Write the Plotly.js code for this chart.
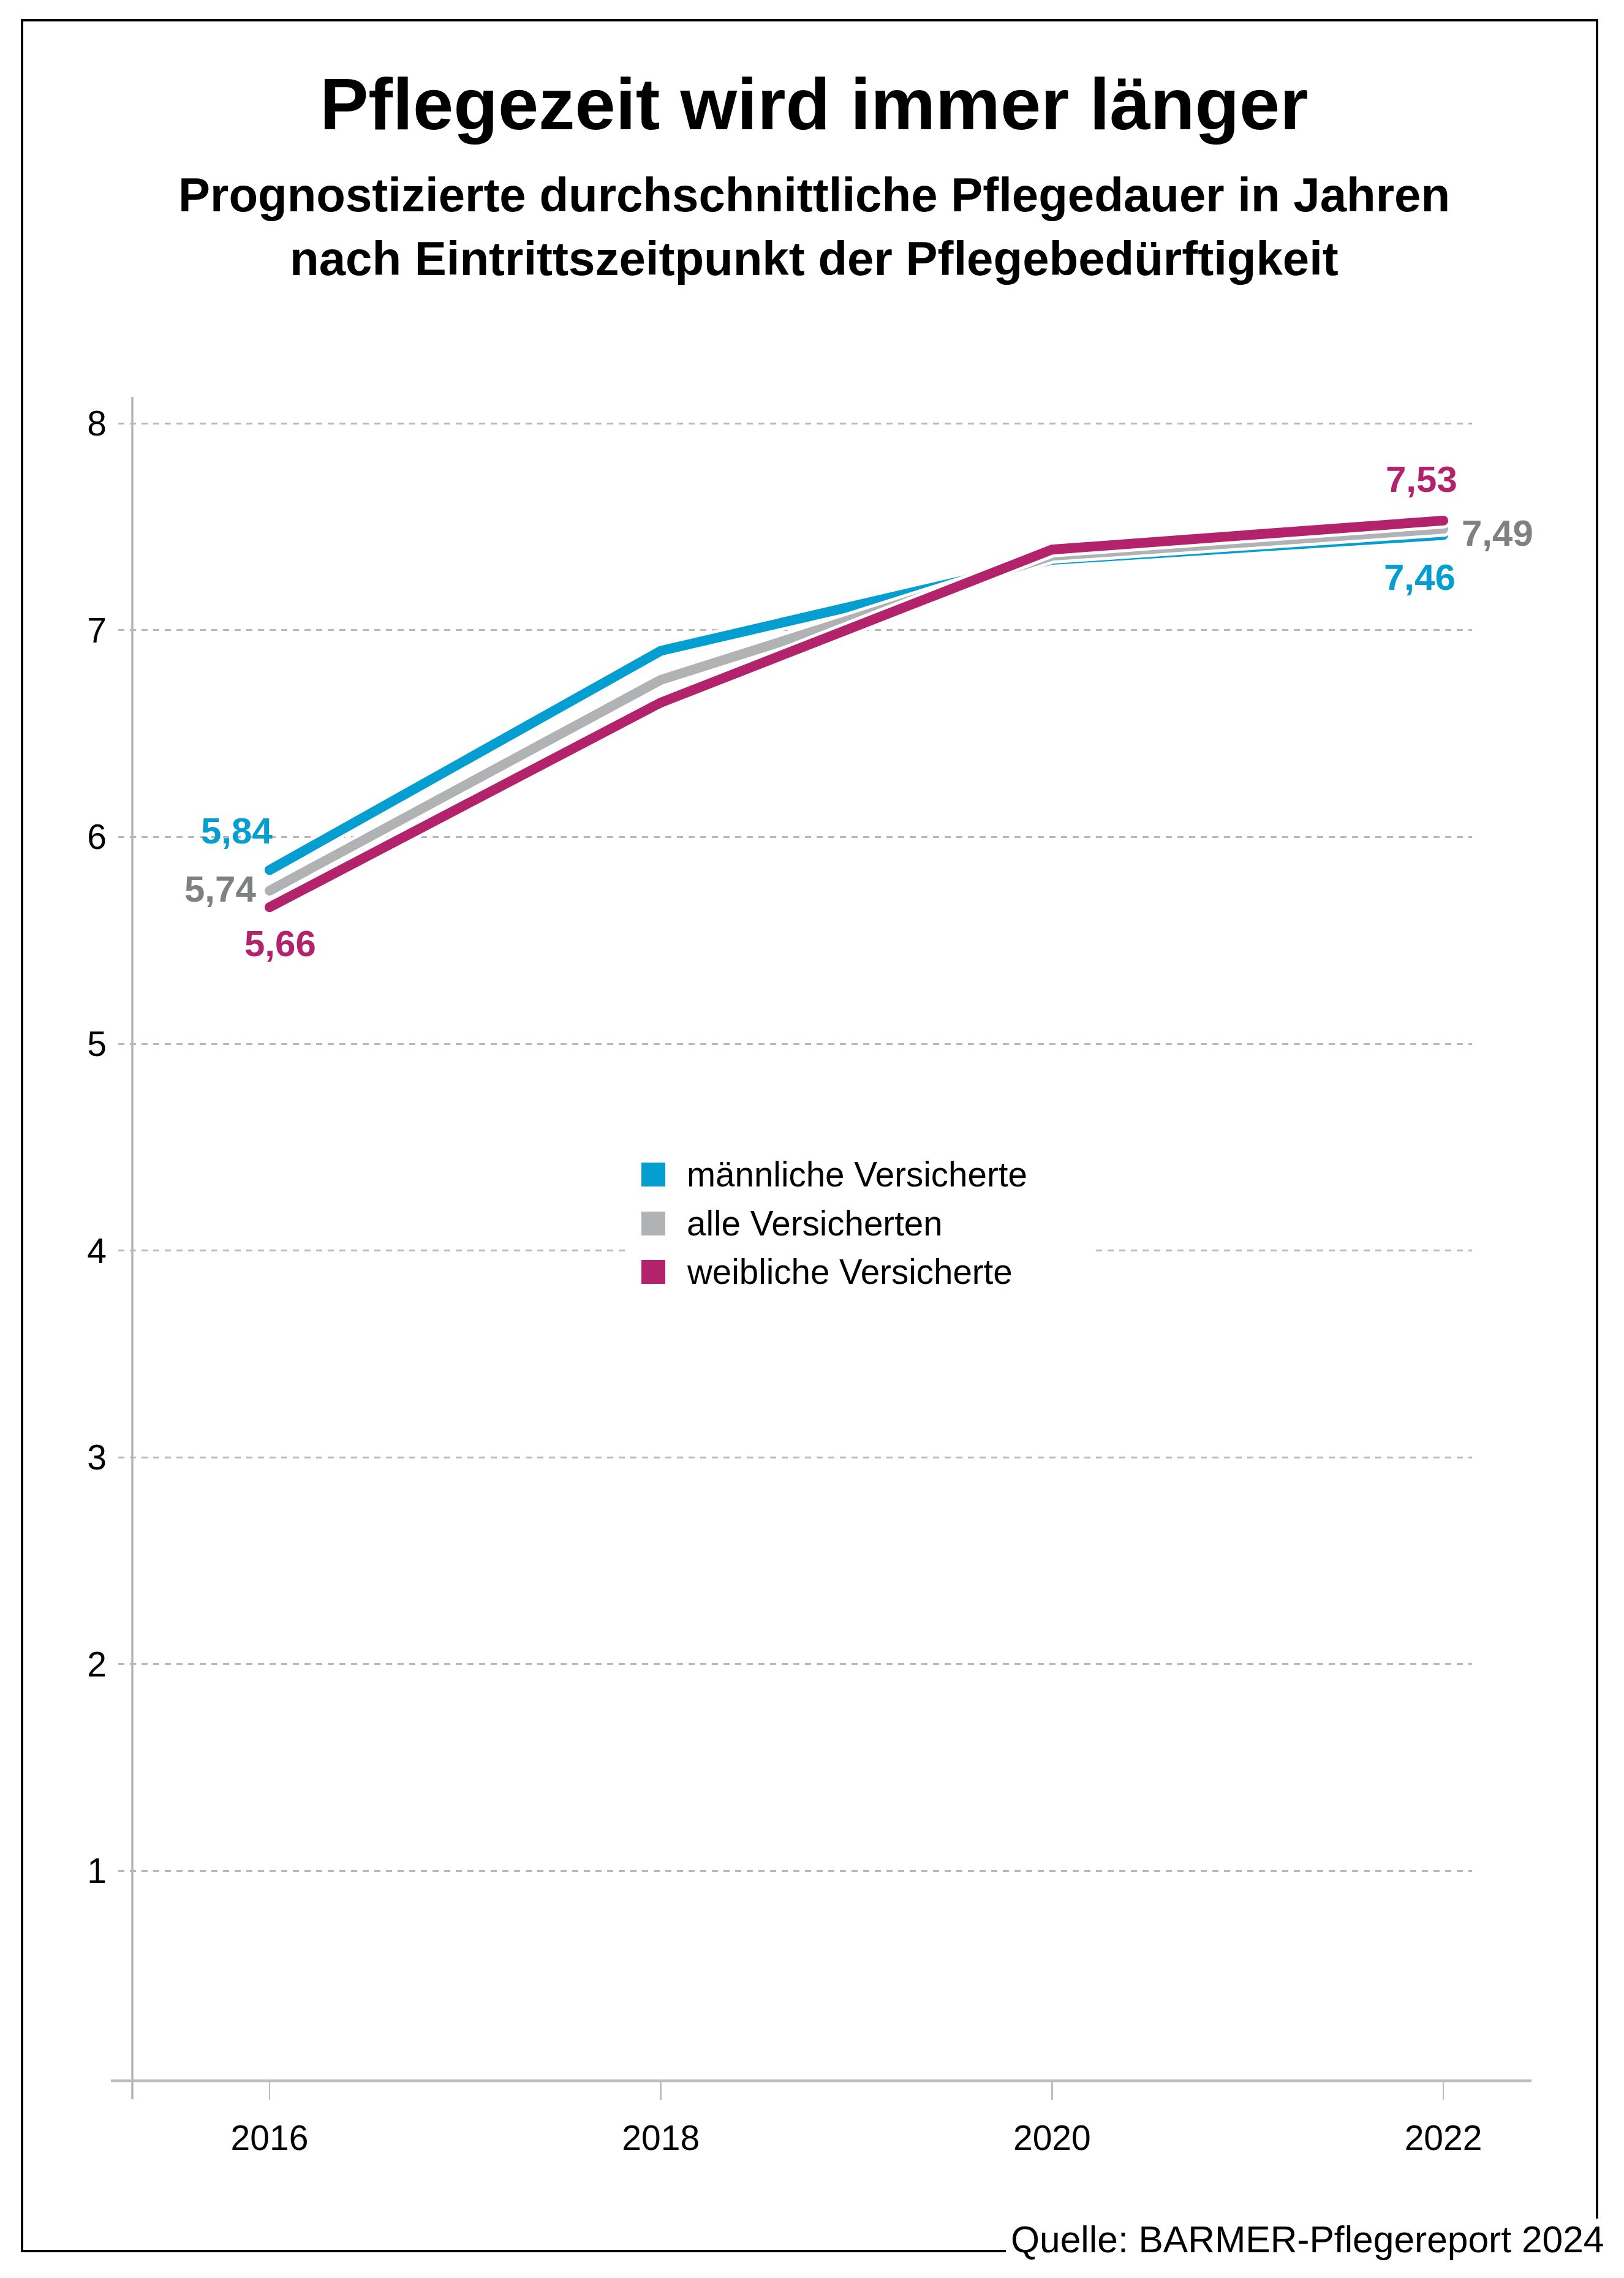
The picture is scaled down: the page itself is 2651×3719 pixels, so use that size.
<!DOCTYPE html>
<html>
<head>
<meta charset="utf-8">
<script src="https://cdn.plot.ly/plotly-3.0.1.min.js"></script>
<style>
  html, body { margin: 0; padding: 0; background: #ffffff; }
  #chart { width: 2651px; height: 3719px; }
  .scatterlayer path.js-line { stroke-linecap: round; stroke-linejoin: miter; }
</style>
</head>
<body>
<div id="chart"></div>
<script>
// ---------- data ----------
const years = [2016, 2018, 2020, 2022];
const maennlich = [5.84, 6.90, 7.34, 7.46];
const alle = [5.74, 6.76, 7.36, 7.49];
const weiblich = [5.66, 6.65, 7.39, 7.53];
const seriesNames = ['männliche Versicherte', 'alle Versicherten', 'weibliche Versicherte'];
const yTickVals = [1, 2, 3, 4, 5, 6, 7, 8];
const xTickVals = [2016, 2018, 2020, 2022];
const titleText = 'Pflegezeit wird immer länger';
const subtitleLines = ['Prognostizierte durchschnittliche Pflegedauer in Jahren',
                       'nach Eintrittszeitpunkt der Pflegebedürftigkeit'];
const sourceText = 'Quelle: BARMER-Pflegereport 2024';

// ---------- styling ----------
const W = 2651, H = 3719;
const FONT = 'Liberation Sans, Arial, Helvetica, sans-serif';
const colBlue = '#049fd0', colGray = '#b1b2b4', colMag = '#b3236b';
const colGrayLabel = '#7f8082';
const X = px => px / W;
const Y = py => 1 - py / H;

const series = [
  {name: seriesNames[0], values: maennlich, color: colBlue, label: colBlue,
   shiftStart: [-54, 64], shiftEnd: [-39, -69]},
  {name: seriesNames[1], values: alle, color: colGray, label: colGrayLabel,
   shiftStart: [-81, 3], shiftEnd: [88, -7]},
  {name: seriesNames[2], values: weiblich, color: colMag, label: colMag,
   shiftStart: [17, -59], shiftEnd: [-36, 67]}
];

const fmt = v => v.toFixed(2).replace('.', ',');

const traces = [];
series.forEach(s => {
  traces.push({x: years, y: s.values, type: 'scatter', mode: 'lines',
    line: {color: '#ffffff', width: 26}, hoverinfo: 'skip', showlegend: false});
  traces.push({x: years, y: s.values, type: 'scatter', mode: 'lines', name: s.name,
    line: {color: s.color, width: 16}, showlegend: false});
});

const annotations = [];
// title lines
annotations.push({xref: 'paper', yref: 'paper', x: X(1329), y: Y(170), xanchor: 'center', yanchor: 'middle',
  text: '<b>' + titleText + '</b>', showarrow: false, font: {family: FONT, size: 119, color: '#000'}});
const subY = [318, 421.5];
subtitleLines.forEach((t, i) => annotations.push({xref: 'paper', yref: 'paper', x: X(1329), y: Y(subY[i]),
  xanchor: 'center', yanchor: 'middle', text: '<b>' + t + '</b>', showarrow: false,
  font: {family: FONT, size: 78, color: '#000'}}));
// source
annotations.push({xref: 'paper', yref: 'paper', x: X(1648), y: Y(3656), xanchor: 'left', yanchor: 'middle',
  text: sourceText, showarrow: false, font: {family: FONT, size: 60.5, color: '#000'}});

// value labels at first / last point
series.forEach(s => {
  const n = s.values.length - 1;
  annotations.push({x: years[0], y: s.values[0], xref: 'x', yref: 'y', text: '<b>' + fmt(s.values[0]) + '</b>',
    showarrow: false, xshift: s.shiftStart[0], yshift: s.shiftStart[1], xanchor: 'center', yanchor: 'middle',
    font: {family: FONT, size: 60, color: s.label}});
  annotations.push({x: years[n], y: s.values[n], xref: 'x', yref: 'y', text: '<b>' + fmt(s.values[n]) + '</b>',
    showarrow: false, xshift: s.shiftEnd[0], yshift: s.shiftEnd[1], xanchor: 'center', yanchor: 'middle',
    font: {family: FONT, size: 60, color: s.label}});
});

// legend (manual, square swatches)
const legRowY = [1917.5, 1997.5, 2076.5];
const shapes = [];
shapes.push({type: 'rect', xref: 'paper', yref: 'paper', x0: X(1028), x1: X(1783), y0: Y(1870), y1: Y(2125),
  fillcolor: '#ffffff', line: {width: 0}, layer: 'above'});
series.forEach((s, i) => {
  shapes.push({type: 'rect', xref: 'paper', yref: 'paper', x0: X(1047), x1: X(1086),
    y0: Y(legRowY[i] - 19.5), y1: Y(legRowY[i] + 19.5), fillcolor: s.color, line: {width: 0}, layer: 'above'});
  annotations.push({xref: 'paper', yref: 'paper', x: X(1119), y: Y(legRowY[i]), xanchor: 'left', yanchor: 'middle',
    text: s.name, showarrow: false, font: {family: FONT, size: 56.5, color: '#000'}});
});

// axis lines
shapes.push({type: 'line', xref: 'paper', yref: 'paper', x0: X(216), x1: X(216), y0: Y(648), y1: Y(3427),
  line: {color: '#b3b3b3', width: 3.5}, layer: 'below'});
shapes.push({type: 'line', xref: 'paper', yref: 'paper', x0: X(181), x1: X(2500), y0: Y(3397), y1: Y(3397),
  line: {color: '#bdbdbd', width: 4.5}, layer: 'below'});

// frame
const fr = {color: '#000000', width: 4};
shapes.push({type: 'line', xref: 'paper', yref: 'paper', x0: X(34), x1: X(2609), y0: Y(33), y1: Y(33), line: fr});
shapes.push({type: 'line', xref: 'paper', yref: 'paper', x0: X(36), x1: X(36), y0: Y(31), y1: Y(3677), line: fr});
shapes.push({type: 'line', xref: 'paper', yref: 'paper', x0: X(34), x1: X(1642), y0: Y(3675), y1: Y(3675), line: fr});
shapes.push({type: 'line', xref: 'paper', yref: 'paper', x0: X(2607), x1: X(2607), y0: Y(31), y1: Y(3622), line: fr});

const layout = {
  width: W, height: H,
  margin: {l: 0, r: 0, t: 0, b: 0, pad: 0},
  paper_bgcolor: '#ffffff', plot_bgcolor: 'rgba(0,0,0,0)',
  showlegend: false,
  xaxis: {
    domain: [X(193), X(2403)],
    range: [2015.2265, 2022.147],
    tickvals: xTickVals, ticktext: xTickVals.map(String),
    ticks: 'outside', ticklen: 30, tickwidth: 2.5, tickcolor: '#bdbdbd',
    showgrid: false, zeroline: false, showline: false,
    tickfont: {family: FONT, size: 57, color: '#000'},
    ticklabelstandoff: 14,
    fixedrange: true
  },
  yaxis: {
    domain: [Y(3397), Y(648)],
    range: [-0.0148, 8.128],
    tickvals: yTickVals, ticktext: yTickVals.map(String),
    ticks: '', showgrid: true, gridcolor: '#b9b9b9', gridwidth: 3, griddash: '10px,9px',
    zeroline: false, showline: false,
    tickfont: {family: FONT, size: 57, color: '#000'},
    ticklabelstandoff: 18,
    fixedrange: true
  },
  annotations: annotations,
  shapes: shapes
};

Plotly.newPlot('chart', traces, layout, {displayModeBar: false, staticPlot: true});
</script>
</body>
</html>
